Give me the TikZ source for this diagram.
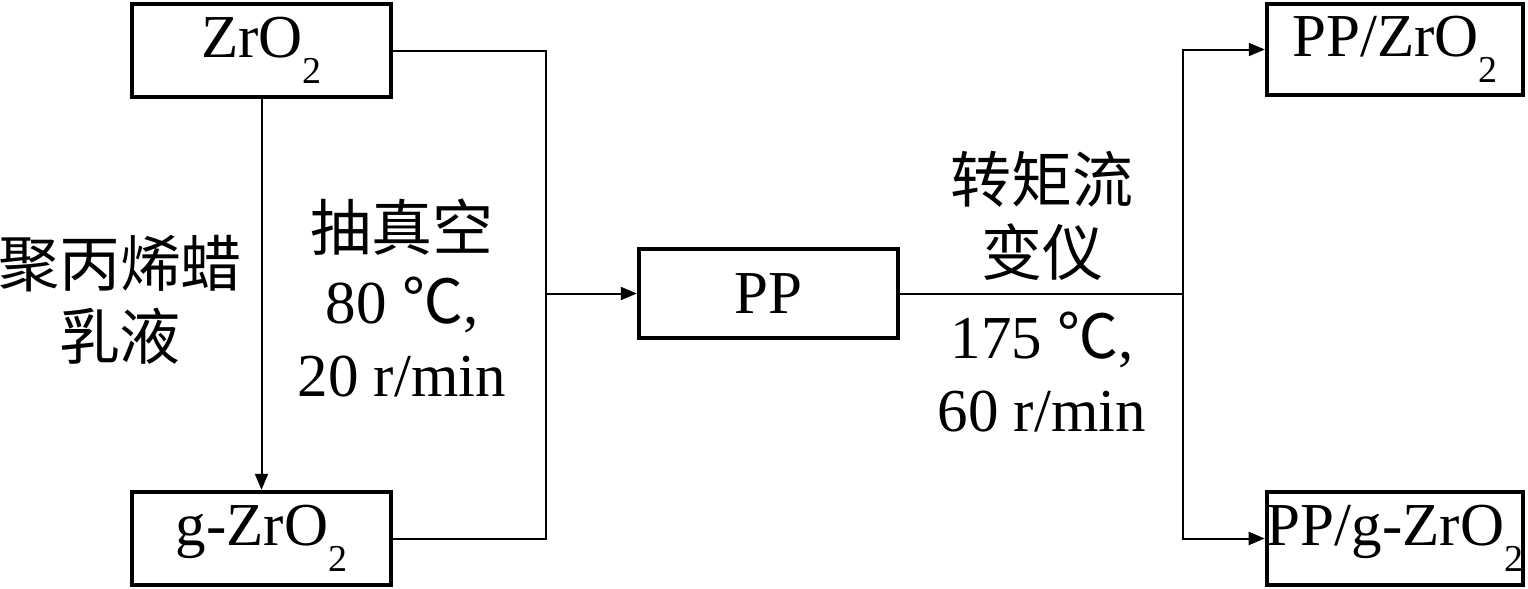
\documentclass[tikz,border=0pt]{standalone}
\usepackage{fontspec}
\setmainfont{Liberation Serif}
\newfontfamily\cjk{Noto Sans CJK SC}
\usetikzlibrary{arrows.meta}
\newcommand\mysub[1]{\raisebox{-0.42em}{\fontsize{19}{19}\selectfont #1}}
\begin{document}
\begin{tikzpicture}[x=0.5pt,y=-0.5pt,
  every node/.style={font=\fontsize{30.5}{36.5}\selectfont},
  box/.style={draw,line width=2.2pt,inner sep=0pt},
  conn/.style={line width=1pt},
  arr/.style={conn,-{Triangle[length=8pt,width=6.5pt]}},
  lbl/.style={align=center,inner sep=0pt}]
\useasboundingbox (0,0) rectangle (1528,589);
\node[box,minimum width=129.5pt,minimum height=46.5pt] (z) at (261.5,50.5) {ZrO\mysub{2}};
\node[box,minimum width=129.5pt,minimum height=46.5pt] (g) at (261.5,538.5) {g-ZrO\mysub{2}};
\node[box,minimum width=129.5pt,minimum height=44.5pt] (pp) at (768.5,293.5) {PP};
\node[box,minimum width=128pt,minimum height=45.5pt] (a) at (1395,49.5) {PP/ZrO\mysub{2}};
\node[box,minimum width=128pt,minimum height=46.5pt] (b) at (1395,538.5) {PP/g-ZrO\mysub{2}};
\node[lbl] (l1) at (120,300) {{\cjk 聚丙烯蜡}\\{\cjk 乳液}};
\node[lbl] (l2) at (402,298) {{\cjk 抽真空}\\80 {\cjk ℃},\\20 r/min};
\node[lbl] (l3) at (1042,216) {{\cjk 转矩流}\\{\cjk 变仪}};
\node[lbl] (l4) at (1042,372) {175 {\cjk ℃},\\60 r/min};
\coordinate (j1) at (546,293.5);
\coordinate (j2) at (1183,293.5);
\draw[arr] (z.south) -- (g.north);
\draw[conn] (z.east) -| (j1);
\draw[conn] (g.east) -| (j1);
\draw[arr] (j1) -- (pp.west);
\draw[conn] (pp.east) -- (j2);
\draw[arr] (j2) |- (a.west);
\draw[arr] (j2) |- (b.west);
\end{tikzpicture}
\end{document}
